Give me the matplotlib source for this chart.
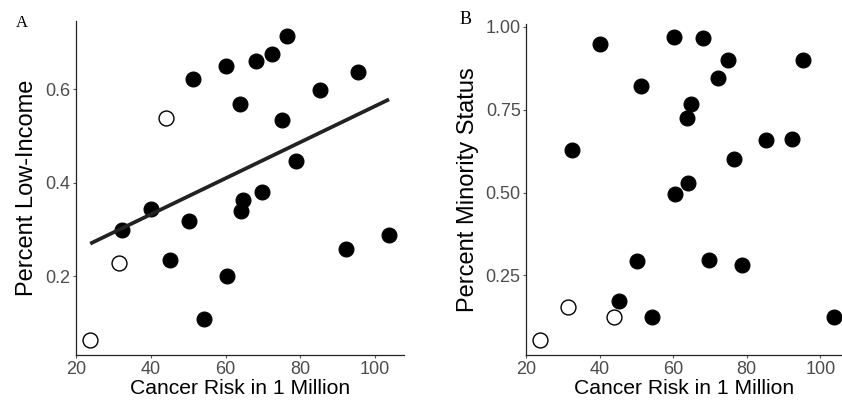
import numpy as np
import matplotlib.pyplot as plt

plt.rcParams['font.family'] = ['Liberation Sans', 'DejaVu Sans']

# cancer risk per site (shared by both panels)
risk = [32.4, 40.0, 45.1, 50.1, 51.3, 54.1, 60.2, 60.4, 63.8, 64.1, 64.7,
        68.2, 69.6, 72.3, 75.0, 76.4, 78.8, 85.3, 92.3, 95.3, 103.7,
        23.8, 31.4, 44.0]
low_income = [0.299, 0.343, 0.234, 0.317, 0.621, 0.109, 0.649, 0.201, 0.569,
              0.339, 0.362, 0.660, 0.380, 0.676, 0.535, 0.714, 0.446, 0.598,
              0.259, 0.636, 0.288,
              0.064, 0.228, 0.538]
minority = [0.628, 0.949, 0.174, 0.295, 0.821, 0.124, 0.968, 0.496, 0.726,
            0.528, 0.767, 0.966, 0.297, 0.847, 0.900, 0.600, 0.281, 0.658,
            0.663, 0.900, 0.126,
            0.054, 0.154, 0.126]
# open circles for the last three sites
filled = [True] * 21 + [False] * 3

x_ticks = [20, 40, 60, 80, 100]
xlab = 'Cancer Risk in 1 Million'

risk = np.array(risk)
low_income = np.array(low_income)
minority = np.array(minority)
filled = np.array(filled)

fig = plt.figure(figsize=(8.42, 4.03), dpi=100)
axA = fig.add_axes([76 / 842, 48 / 403, 328 / 842, 333.5 / 403])
axB = fig.add_axes([526.3 / 842, 48 / 403, 316 / 842, 331.5 / 403])


def panel(ax, y, ylabel, yticks, ylim, xlim):
    ax.scatter(risk[filled], y[filled], s=115, c='black', edgecolors='black',
               linewidths=0.8, zorder=3)
    ax.scatter(risk[~filled], y[~filled], s=115, c='white', edgecolors='black',
               linewidths=1.0, zorder=3)
    ax.set_xlim(*xlim)
    ax.set_ylim(*ylim)
    ax.set_xticks(x_ticks)
    ax.set_yticks(yticks)
    for s in ['top', 'right']:
        ax.spines[s].set_visible(False)
    for s in ['left', 'bottom']:
        ax.spines[s].set_linewidth(0.9)
        ax.spines[s].set_color('#222222')
    ax.tick_params(length=2, width=0.8, color='#555555', labelsize=13,
                   labelcolor='#4d4d4d', pad=2)
    ax.set_xlabel(xlab, fontsize=15.2, color='black', labelpad=1)
    ax.set_ylabel(ylabel, fontsize=17, color='black', labelpad=5)


panel(axA, low_income, 'Percent Low-Income', [0.2, 0.4, 0.6],
      (0.031, 0.745), (20, 107.7))
axA.set_yticklabels(['0.2', '0.4', '0.6'])
b, a = np.polyfit(risk, low_income, 1)
xs = np.array([risk.min(), risk.max()])
axA.plot(xs, a + b * xs, color='#222222', lw=2.7, zorder=4,
         solid_capstyle='butt')

panel(axB, minority, 'Percent Minority Status', [0.25, 0.5, 0.75, 1.0],
      (0.01, 1.01), (20, 106))
axB.set_yticklabels(['0.25', '0.50', '0.75', '1.00'])

fig.text(22 / 842, 1 - 23 / 403, 'A', family='Liberation Serif', fontsize=12,
         va='center', ha='center')
fig.text(466 / 842, 1 - 20 / 403, 'B', family='Liberation Serif', fontsize=13,
         va='center', ha='center')

fig.savefig('out.png', dpi=100)
